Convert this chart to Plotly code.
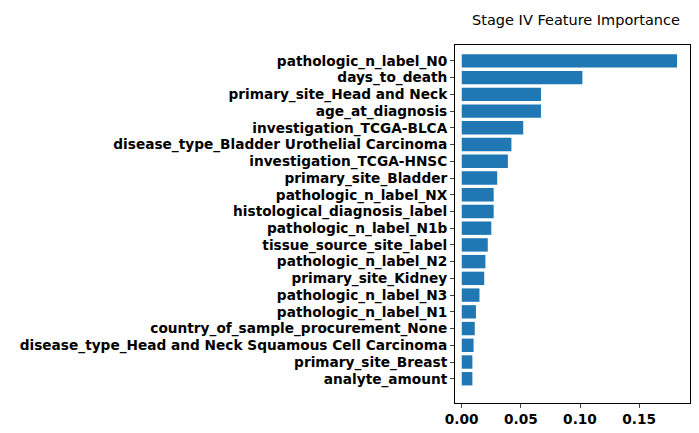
import plotly.graph_objects as go

features = [
    "pathologic_n_label_N0", "days_to_death", "primary_site_Head and Neck",
    "age_at_diagnosis", "investigation_TCGA-BLCA",
    "disease_type_Bladder Urothelial Carcinoma", "investigation_TCGA-HNSC",
    "primary_site_Bladder", "pathologic_n_label_NX", "histological_diagnosis_label",
    "pathologic_n_label_N1b", "tissue_source_site_label", "pathologic_n_label_N2",
    "primary_site_Kidney", "pathologic_n_label_N3", "pathologic_n_label_N1",
    "country_of_sample_procurement_None",
    "disease_type_Head and Neck Squamous Cell Carcinoma", "primary_site_Breast",
    "analyte_amount",
]
importance = [0.182, 0.102, 0.067, 0.067, 0.052, 0.042, 0.039, 0.030, 0.027, 0.027,
              0.025, 0.022, 0.020, 0.019, 0.015, 0.012, 0.011, 0.010, 0.009, 0.009]

n = len(features)
ypos = list(range(n - 1, -1, -1))

fig = go.Figure(go.Bar(x=importance, y=ypos, orientation="h", width=0.8,
                       marker=dict(color="#1f77b4", line_width=0)))

fig.update_layout(
    width=699, height=433,
    margin=dict(l=440, r=17, t=37, b=38),
    plot_bgcolor="white", paper_bgcolor="white",
    font=dict(family="DejaVu Sans", color="black", size=13.7),
    title=dict(text="Stage IV Feature Importance", x=(447 + 689) / 2 / 699,
               xanchor="center", y=0.985, yanchor="top", font=dict(size=14.5)),
    showlegend=False,
)
fig.update_xaxes(range=[-0.0057, 0.193], tickvals=[0, 0.05, 0.10, 0.15],
                 ticktext=["<b>0.00</b>", "<b>0.05</b>", "<b>0.10</b>", "<b>0.15</b>"],
                 showgrid=False, zeroline=False, showline=True, linecolor="black",
                 linewidth=1, mirror=True, ticks="outside", ticklen=4)
fig.update_yaxes(range=[-1.45, n - 1 + 0.95], tickvals=ypos,
                 ticktext=[f"<b>{f}</b>" for f in features],
                 showgrid=False, zeroline=False, showline=True, linecolor="black",
                 linewidth=1, mirror=True, ticks="outside", ticklen=4)

fig.write_html("out.html")
